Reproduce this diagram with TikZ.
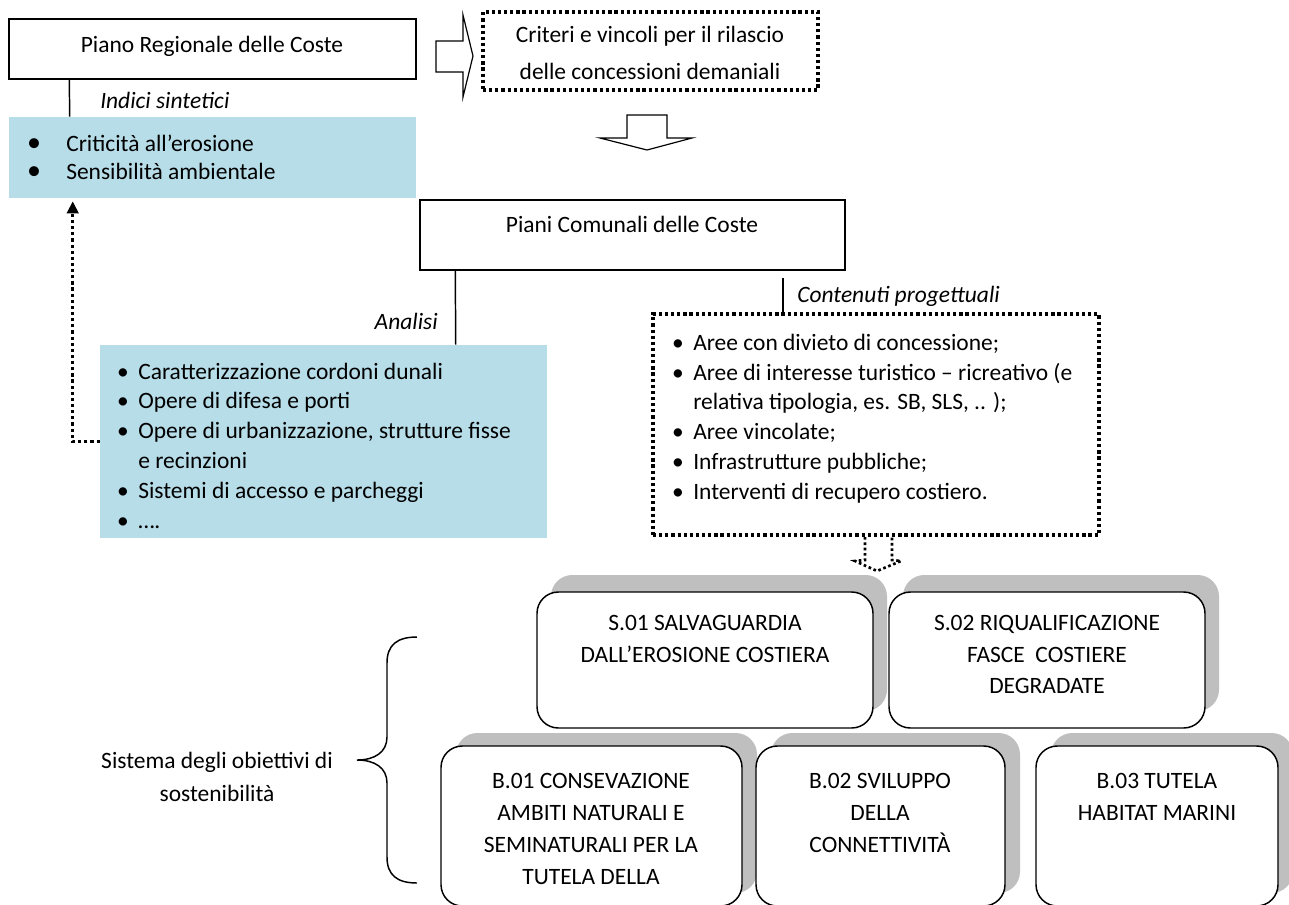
\documentclass[tikz,border=0pt]{standalone}
\usepackage{fontspec}
\setmainfont{Carlito}
\usetikzlibrary{arrows.meta,calc,fit}
\definecolor{aqua}{HTML}{B7DDE8}
\definecolor{shade}{HTML}{BFBFBF}
\begin{document}
\begin{tikzpicture}[x=0.75pt,y=-0.75pt,
  every node/.style={font=\fontsize{17.6}{21}\selectfont, inner sep=0pt},
  plain/.style={draw, line width=1.1pt, fill=white},
  panel/.style={fill=aqua},
  dotbox/.style={draw, line width=2.4pt, dash pattern=on 2.4pt off 2.2pt},
  conn/.style={line width=1.1pt},
  dotconn/.style={line width=2.4pt, dash pattern=on 2.4pt off 2.2pt},
  blockarrow/.style={draw, line width=0.9pt, fill=white},
  goal/.style={draw, line width=1.1pt, rounded corners=16pt, fill=white},
  goalshadow/.style={fill=shade, rounded corners=16pt},
  lbl/.style={font=\fontsize{17.6}{21}\selectfont\itshape, yshift=-2.6pt},
  txt/.style={anchor=mid west, yshift=-2.6pt},
  ctr/.style={anchor=mid, yshift=-2.6pt},
  capstext/.style={anchor=mid},
  bigbul/.style={anchor=mid, font=\fontsize{21}{21}\selectfont, yshift=-2.6pt}
]
\useasboundingbox (0,0) rectangle (1289,904);

% ---------- top left ----------
\node[plain, fit={(9,19)(416,79)}] (prc) {};
\node[ctr] (tprc) at (212,46) {Piano Regionale delle Coste};
\node[panel, fit={(9,117)(416,198)}] (b1) {};
\draw[conn] ($(prc.south west)+(61,0)$) -- ($(b1.north west)+(61,0)$);
\node[lbl, anchor=mid west] (lind) at (100,102) {Indici sintetici};
\node[bigbul] (u1a) at (34,145) {•};
\node[txt] (t1a) at (66,145) {Criticità all’erosione};
\node[bigbul] (u1b) at (34,173) {•};
\node[txt] (t1b) at (66,173) {Sensibilità ambientale};

% ---------- right arrow and criteria box ----------
\draw[blockarrow] (436,41) -- (463,41) -- (463,15) -- (473,56) -- (463,97) -- (463,72) -- (436,72) -- cycle;
\node[dotbox, fit={(483,12)(818,90)}] (crit) {};
\node[ctr] (tcr1) at (650,36) {Criteri e vincoli per il rilascio};
\node[ctr] (tcr2) at (650,73) {delle concessioni demaniali};

% down block arrow
\draw[blockarrow] (627,115) -- (667,115) -- (667,138) -- (692,138) -- (647,150) -- (600,138) -- (627,138) -- cycle;

% ---------- Piani comunali ----------
\node[plain, fit={(420,200)(845,270)}] (pcc) {};
\node[ctr] (tpcc) at (632,226) {Piani Comunali delle Coste};

% analysis panel
\node[panel, fit={(100,345)(547,538)}] (b2) {};
\draw[conn] ($(pcc.south west)+(36,0)$) -- ($(b2.north west)+(356,0)$);
\node[lbl, anchor=mid east] (lan) at (438,323) {Analisi};
\node[ctr] (u2a) at (123,373) {•};
\node[txt] (t2a) at (138,373) {Caratterizzazione cordoni dunali};
\node[ctr] (u2b) at (123,402) {•};
\node[txt] (t2b) at (138,402) {Opere di difesa e porti};
\node[ctr] (u2c) at (123,432) {•};
\node[txt] (t2c) at (138,432) {Opere di urbanizzazione, strutture fisse};
\node[txt] (t2d) at (138,462) {e recinzioni};
\node[ctr] (u2e) at (123,492) {•};
\node[txt] (t2e) at (138,492) {Sistemi di accesso e parcheggi};
\node[ctr] (u2f) at (123,522) {•};
\node[txt] (t2f) at (138,522) {….};

% feedback dotted connector
\draw[dotconn, -{Triangle[width=8.5pt,length=9pt]}] (b2.west) -| ($(b1.south west)+(64,3)$);

% project contents
\node[dotbox, fit={(653,314)(1099,535)}] (b3) {};
\coordinate (c3) at (783,278);
\draw[conn] (c3) -- (c3 |- b3.north);
\node[lbl, anchor=mid west] (lcp) at (797,296) {Contenuti progettuali};
\node[ctr] (u3a) at (678,344) {•};
\node[txt] (t3a) at (693,344) {Aree con divieto di concessione;};
\node[ctr] (u3b) at (678,374) {•};
\node[txt] (t3b) at (693,374) {Aree di interesse turistico – ricreativo (e};
\node[txt] (t3c) at (693,403) {relativa tipologia, es. SB, SLS, .. );};
\node[ctr] (u3d) at (678,433) {•};
\node[txt] (t3d) at (693,433) {Aree vincolate;};
\node[ctr] (u3e) at (678,463) {•};
\node[txt] (t3e) at (693,463) {Infrastrutture pubbliche;};
\node[ctr] (u3f) at (678,493) {•};
\node[txt] (t3f) at (693,493) {Interventi di recupero costiero.};

% dotted block arrow
\draw[dotconn, line width=2pt, dash pattern=on 2pt off 2pt] (865,537) -- (865,560) -- (855,561) -- (877,571) -- (901,561) -- (892,560) -- (892,537);

% ---------- objectives ----------
\node[goalshadow, fit={(551,575)(887,711)}] (s1sh) {};
\node[goalshadow, fit={(903,575)(1219,711)}] (s2sh) {};
\node[goal, fit={(537,592)(873,728)}] (s1) {};
\node[goal, fit={(889,592)(1205,728)}] (s2) {};
\node[capstext] (ts1a) at (705,627) {S.01 SALVAGUARDIA};
\node[capstext] (ts1b) at (705,659) {DALL’EROSIONE COSTIERA};
\node[capstext] (ts2a) at (1047,627) {S.02 RIQUALIFICAZIONE};
\node[capstext] (ts2b) at (1047,659) {FASCE\ \ COSTIERE};
\node[capstext] (ts2c) at (1047,690) {DEGRADATE};

\node[goalshadow, fit={(456,733)(757,893)}] (r1sh) {};
\node[goalshadow, fit={(771,733)(1020,893)}] (r2sh) {};
\node[goalshadow, fit={(1051,733)(1293,893)}] (r3sh) {};
\node[goal, fit={(441,746)(742,906)}] (r1) {};
\node[goal, fit={(756,746)(1005,906)}] (r2) {};
\node[goal, fit={(1036,746)(1278,906)}] (r3) {};
\node[capstext] (tr1a) at (591,785) {B.01 CONSEVAZIONE};
\node[capstext] (tr1b) at (591,817) {AMBITI NATURALI E};
\node[capstext] (tr1c) at (591,849) {SEMINATURALI PER LA};
\node[capstext] (tr1d) at (591,881) {TUTELA DELLA};
\node[capstext] (tr2a) at (880,785) {B.02 SVILUPPO};
\node[capstext] (tr2b) at (880,817) {DELLA};
\node[capstext] (tr2c) at (880,849) {CONNETTIVITÀ};
\node[capstext] (tr3a) at (1157,785) {B.03 TUTELA};
\node[capstext] (tr3b) at (1157,817) {HABITAT MARINI};

% brace and label
\draw[line width=1.1pt] (417,637) .. controls (397,637) and (387,645) .. (387,663) -- (387,737) .. controls (387,752) and (375,760) .. (357,760) .. controls (375,760) and (387,768) .. (387,783) -- (387,857) .. controls (387,875) and (397,883) .. (417,883);
\node[ctr] (tsys1) at (217,762) {Sistema degli obiettivi di};
\node[ctr] (tsys2) at (217,795) {sostenibilità};
\end{tikzpicture}
\end{document}
